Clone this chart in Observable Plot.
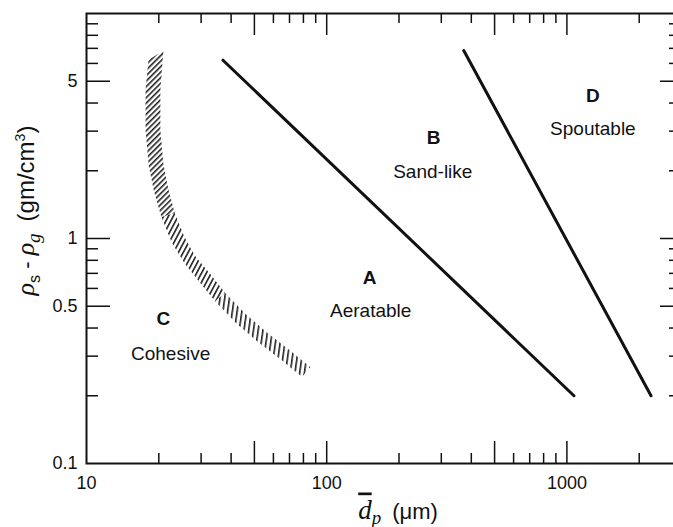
<!DOCTYPE html>
<html><head><meta charset="utf-8">
<script src="https://cdn.jsdelivr.net/npm/d3@7"></script>
<script src="https://cdn.jsdelivr.net/npm/@observablehq/plot@0.6"></script>
<style>
html,body{margin:0;padding:0;background:#fff;overflow:hidden;}
#chart{width:673px;height:527px;overflow:hidden;}
#chart svg{max-width:none !important;height:527px !important;}
</style></head><body><div id="chart"></div>
<script>
// ---- data ----
const xDomain = [10, 3000];
const yDomain = [0.1, 10];
const xTickLabels = [10, 50, 100, 500, 1000];
const xTicksMajor = [50, 100, 500, 1000];
const xTicksMinor = [20, 30, 40, 60, 70, 80, 90, 200, 300, 400, 600, 700, 800, 900, 2000];
const yTickLabels = [0.1, 0.5, 1, 5];
const yTicksMajor = [0.5, 1, 5];
const yTicksMinor = [0.2, 0.3, 0.4, 0.6, 0.7, 0.8, 0.9, 2, 3, 4, 6, 7, 8, 9];

// A/B boundary and B/D boundary
const lineABx = [37, 1070];
const lineABy = [6.2, 0.2];
const lineBDx = [372, 2240];
const lineBDy = [6.85, 0.2];

// hatched C/A boundary band: outer (A side) and inner (C side) edges
const bandOuterX = [21.0, 20.4, 20.4, 21.0, 22.0, 23.4, 25.7, 28.5, 32.6, 37.9, 45.8, 56.3, 69.4, 85.8];
const bandOuterY = [6.8, 4.55, 3.02, 2.13, 1.66, 1.29, 1.01, 0.829, 0.70, 0.571, 0.463, 0.382, 0.321, 0.267];
const bandInnerX = [18.2, 17.7, 17.7, 18.25, 19.2, 20.6, 22.8, 25.8, 29.5, 34.5, 42.0, 52.0, 64.3, 79.4];
const bandInnerY = [6.2, 4.55, 3.02, 2.09, 1.61, 1.24, 0.949, 0.769, 0.643, 0.523, 0.420, 0.345, 0.290, 0.241];

// region labels
const regionLetters = ["A", "B", "C", "D"];
const regionLetterX = [151, 279, 20.9, 1283];
const regionLetterY = [0.671, 2.81, 0.441, 4.32];
const regionNames = ["Aeratable", "Sand-like", "Cohesive", "Spoutable"];
const regionNameX = [152.5, 276.5, 22.4, 1283];
const regionNameY = [0.479, 1.985, 0.308, 3.08];

const xTitle = "d̄p (μm)";
const yTitle = "ρs - ρg (gm/cm3)";

// ---- styles ----
const W = 685, H = 527, mL = 86, mR = 4, mT = 13, mB = 64;
const PW = W - mL - mR, PH = H - mT - mB;
const hatchSections = [[0, 5, 45, 3.9], [5, 9, 28, 4.3], [9, 13, 8, 4.7]];
const sans = "'Liberation Sans', Arial, Helvetica, sans-serif";
const serif = "'Liberation Serif', 'Times New Roman', serif";

const defsMark = () => {
  const ns = "http://www.w3.org/2000/svg";
  const defs = document.createElementNS(ns, "defs");
  hatchSections.forEach(([a, b, ang, gap], k) => {
    const p = document.createElementNS(ns, "pattern");
    p.setAttribute("id", "hatch" + k);
    p.setAttribute("patternUnits", "userSpaceOnUse");
    p.setAttribute("width", gap);
    p.setAttribute("height", gap);
    p.setAttribute("patternTransform", `rotate(${ang})`);
    const r = document.createElementNS(ns, "rect");
    r.setAttribute("x", 0); r.setAttribute("y", 0);
    r.setAttribute("width", 1.6); r.setAttribute("height", gap);
    r.setAttribute("fill", "#222");
    p.appendChild(r);
    defs.appendChild(p);
  });
  return defs;
};

const bandMarks = hatchSections.map(([a, b], k) =>
  Plot.area(d3.range(a, b + 1), {
    x1: i => bandInnerX[i], y1: i => bandInnerY[i],
    x2: i => bandOuterX[i], y2: i => bandOuterY[i],
    fill: `url(#hatch${k})`, stroke: "none"
  })
);

const lineData = (xs, ys) => xs.map((x, i) => ({x, y: ys[i]}));

const chart = Plot.plot({
  width: W, height: H,
  marginLeft: mL, marginRight: mR, marginTop: mT, marginBottom: mB,
  style: {fontFamily: sans, color: "#111", background: "#fff", maxWidth: "none"},
  x: {type: "log", domain: xDomain},
  y: {type: "log", domain: yDomain},
  marks: [
    defsMark,
    ...bandMarks,
    Plot.line(lineData(lineABx, lineABy), {x: "x", y: "y", stroke: "#111", strokeWidth: 3}),
    Plot.line(lineData(lineBDx, lineBDy), {x: "x", y: "y", stroke: "#111", strokeWidth: 3}),
    // ticks (inward)
    Plot.tickX(xTicksMinor, {x: d => d, insetTop: PH - 10, strokeWidth: 1.5}),
    Plot.tickX(xTicksMajor, {x: d => d, insetTop: PH - 22, strokeWidth: 1.5}),
    Plot.tickX(xTicksMinor, {x: d => d, insetBottom: PH - 10, strokeWidth: 1.5}),
    Plot.tickX(xTicksMajor, {x: d => d, insetBottom: PH - 22, strokeWidth: 1.5}),
    Plot.tickY(yTicksMinor, {y: d => d, insetRight: PW - 12, strokeWidth: 1.5}),
    Plot.tickY(yTicksMajor, {y: d => d, insetRight: PW - 24, strokeWidth: 1.5}),
    Plot.tickY(yTicksMinor, {y: d => d, insetLeft: PW - 12, strokeWidth: 1.5}),
    Plot.tickY(yTicksMajor, {y: d => d, insetLeft: PW - 21, strokeWidth: 1.5}),
    Plot.frame({stroke: "#111", strokeWidth: 2}),
    Plot.axisX({ticks: xTickLabels, tickSize: 0, tickPadding: 13, fontSize: 18, tickFormat: d => String(d), label: null}),
    Plot.axisY({ticks: yTickLabels, tickSize: 0, tickPadding: 9, fontSize: 18, tickFormat: d => String(d), label: null}),
    Plot.text(regionLetters, {x: (d, i) => regionLetterX[i], y: (d, i) => regionLetterY[i], text: d => d, fontSize: 19, fontWeight: "bold", fill: "#111"}),
    Plot.text(regionNames, {x: (d, i) => regionNameX[i], y: (d, i) => regionNameY[i], text: d => d, fontSize: 19, fill: "#111"}),
    Plot.text([xTitle], {frameAnchor: "bottom", dx: 14, dy: 55, text: d => d, textAnchor: "middle", lineAnchor: "bottom", fontSize: 22}),
    Plot.text([yTitle], {frameAnchor: "left", dx: -53, dy: -28, rotate: -90, text: d => d, textAnchor: "middle", lineAnchor: "bottom", fontSize: 22})
  ]
});
document.getElementById("chart").appendChild(chart);

// rich formatting of the axis titles (sub/superscripts, overline)
function rich(textEl, parts) {
  while (textEl.firstChild) textEl.removeChild(textEl.firstChild);
  const ns = "http://www.w3.org/2000/svg";
  for (const p of parts) {
    const t = document.createElementNS(ns, "tspan");
    t.textContent = p.t;
    if (p.dy) t.setAttribute("dy", p.dy);
    t.setAttribute("font-size", p.size || 22);
    t.setAttribute("font-family", p.font || sans);
    if (p.italic) t.setAttribute("font-style", "italic");
    if (p.deco) t.setAttribute("text-decoration", p.deco);
    textEl.appendChild(t);
  }
}
const texts = Array.from(chart.querySelectorAll("text"));
const xt = texts.find(t => t.textContent === xTitle);
const yt = texts.find(t => t.textContent === yTitle);
if (xt) rich(xt, [
  {t: "d", font: serif, italic: true, size: 27, deco: "overline"},
  {t: "p", font: serif, italic: true, size: 19, dy: 5},
  {t: "\u2002(μm)", size: 22, dy: -5}
]);
if (yt) rich(yt, [
  {t: "ρ", font: serif, italic: true, size: 26},
  {t: "s", size: 16, dy: 6},
  {t: " - ", size: 22, dy: -6},
  {t: "ρ", font: serif, italic: true, size: 26},
  {t: "g", font: serif, italic: true, size: 19, dy: 6},
  {t: "\u2002(gm/cm", size: 24, dy: -6},
  {t: "3", size: 14, dy: -9},
  {t: ")", size: 24, dy: 9}
]);
</script>
</body></html>
